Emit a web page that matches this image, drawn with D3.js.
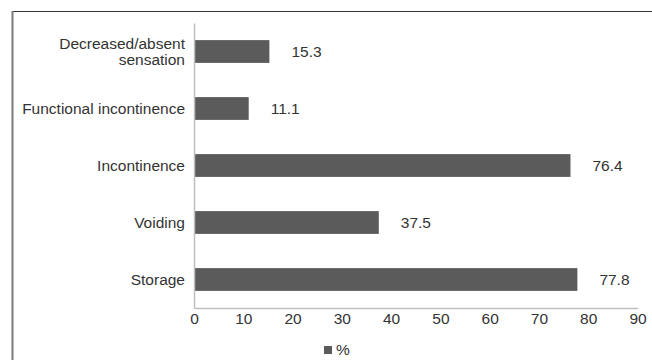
<!DOCTYPE html>
<html>
<head>
<meta charset="utf-8">
<script src="https://cdn.jsdelivr.net/npm/d3@7"></script>
<style>
  html, body { margin: 0; padding: 0; background: #fff; }
  svg { display: block; font-family: "Liberation Sans", Arial, sans-serif; }
</style>
</head>
<body>
<svg id="chart" width="652" height="360"></svg>
<script>
// Symptom categories (top to bottom) and their percentages
const categories = [
  "Decreased/absent sensation",
  "Functional incontinence",
  "Incontinence",
  "Voiding",
  "Storage"
];
const values = [15.3, 11.1, 76.4, 37.5, 77.8];
const xTicks = [0, 10, 20, 30, 40, 50, 60, 70, 80, 90];
const seriesName = "%";

const svg = d3.select("#chart");
const barColor = "#5b5b5c";
const textColor = "#333333";
const axisColor = "#bfbfbf";
const fontSize = 15.5;

// outer frame (top and left edges visible)
svg.append("line").attr("x1", 12).attr("x2", 652).attr("y1", 11.5).attr("y2", 11.5)
  .attr("stroke", "#333").attr("stroke-width", 1.2);
svg.append("line").attr("x1", 12.5).attr("x2", 12.5).attr("y1", 11).attr("y2", 360)
  .attr("stroke", "#7a7a7a").attr("stroke-width", 2);

const plot = { left: 194, right: 637.5, top: 23, bottom: 308 };

const x = d3.scaleLinear().domain([0, 90]).range([plot.left, plot.right]);
const y = d3.scaleBand().domain(categories).range([plot.top, plot.bottom])
  .paddingInner(0.6).paddingOuter(0.3);

// bars
svg.append("g").selectAll("rect").data(categories).join("rect")
  .attr("x", x(0))
  .attr("y", d => y(d))
  .attr("width", (d, i) => x(values[i]) - x(0))
  .attr("height", y.bandwidth())
  .attr("fill", barColor);

// value labels
svg.append("g").selectAll("text").data(categories).join("text")
  .attr("x", (d, i) => x(values[i]) + 22)
  .attr("y", d => y(d) + y.bandwidth() / 2)
  .attr("dy", "0.35em")
  .attr("font-size", fontSize)
  .attr("fill", textColor)
  .text((d, i) => values[i].toFixed(1));

// x axis
const xAxis = svg.append("g").attr("transform", `translate(0,${plot.bottom})`)
  .call(d3.axisBottom(x).tickValues(xTicks).tickSize(0).tickPadding(5));
xAxis.select(".domain").attr("stroke", axisColor).attr("stroke-width", 1.5);
xAxis.selectAll("text").attr("font-size", fontSize).attr("fill", textColor)
  .attr("font-family", "Liberation Sans, Arial, sans-serif");

// y axis
const yAxis = svg.append("g").attr("transform", `translate(${plot.left},0)`)
  .call(d3.axisLeft(y).tickSize(0).tickFormat(""));
yAxis.select(".domain").attr("stroke", axisColor).attr("stroke-width", 1.5);

// category labels, wrapping the long first one onto two lines
const catLines = {
  "Decreased/absent sensation": ["Decreased/absent", "sensation"]
};
const catG = svg.append("g");
categories.forEach(c => {
  const lines = catLines[c] || [c];
  const cy = y(c) + y.bandwidth() / 2;
  const t = catG.append("text")
    .attr("x", plot.left - 9)
    .attr("text-anchor", "end")
    .attr("font-size", fontSize)
    .attr("fill", textColor);
  lines.forEach((ln, k) => {
    t.append("tspan")
      .attr("x", plot.left - 9)
      .attr("y", cy + (k - (lines.length - 1) / 2) * 16.5)
      .attr("dy", "0.35em")
      .text(ln);
  });
});

// legend
const legend = svg.append("g").attr("transform", "translate(324,346)");
legend.append("rect").attr("width", 8).attr("height", 8).attr("fill", barColor);
legend.append("text").attr("x", 12).attr("y", 4).attr("dy", "0.35em")
  .attr("font-size", fontSize).attr("fill", textColor).text(seriesName);
</script>
</body>
</html>
